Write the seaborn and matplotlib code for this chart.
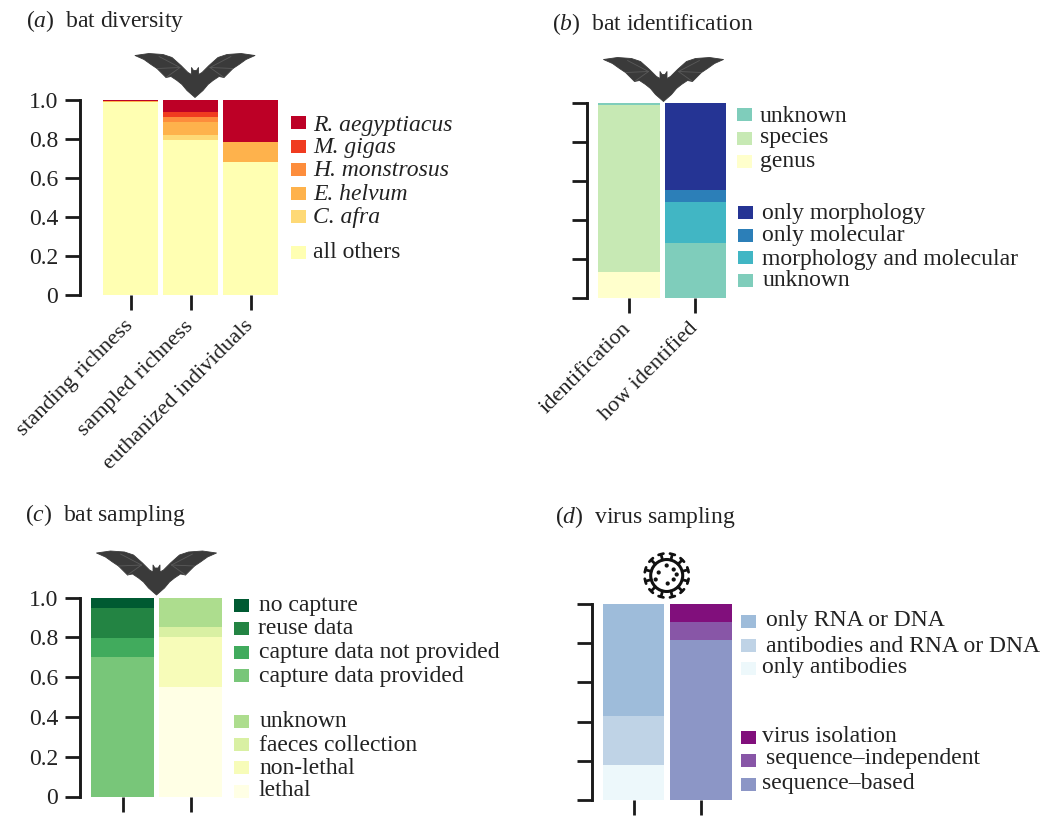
"""
Four stacked proportion panels: bat diversity, identification, sampling, virus sampling.
Output: out.png
"""

import numpy as np
import matplotlib
matplotlib.use("Agg")
import matplotlib.pyplot as plt
from matplotlib.patches import Polygon, Circle, Rectangle
from matplotlib.lines import Line2D
from matplotlib.transforms import Affine2D, ScaledTranslation
import seaborn as sns

# ==========================================
# 1. DATA (segments listed bottom to top)
# ==========================================
A_CATS = ["standing richness", "sampled richness", "euthanized individuals"]
A_OTHERS = [0.985, 0.792, 0.681]
A_AFRA = [0.0, 0.024, 0.0]
A_HELVUM = [0.005, 0.070, 0.103]
A_MONSTROSUS = [0.0, 0.025, 0.0]
A_GIGAS = [0.0, 0.023, 0.0]
A_AEGYPTIACUS = [0.010, 0.066, 0.216]

B_CATS = ["identification", "how identified"]
B_GENUS = [0.132, 0.0]
B_SPECIES = [0.853, 0.0]
B_ID_UNKNOWN = [0.015, 0.0]
B_HOW_UNKNOWN = [0.0, 0.281]
B_BOTH = [0.0, 0.209]
B_MOLECULAR = [0.0, 0.060]
B_MORPHOLOGY = [0.0, 0.450]

C_CATS = ["capture", "method"]
C_PROVIDED = [0.702, 0.0]
C_NOT_PROVIDED = [0.092, 0.0]
C_REUSE = [0.151, 0.0]
C_NO_CAPTURE = [0.055, 0.0]
C_LETHAL = [0.0, 0.548]
C_NON_LETHAL = [0.0, 0.252]
C_FAECES = [0.0, 0.051]
C_UNKNOWN = [0.0, 0.149]

D_CATS = ["target", "assay"]
D_ANTIBODIES = [0.179, 0.0]
D_AB_RNA = [0.250, 0.0]
D_RNA = [0.571, 0.0]
D_SEQ_BASED = [0.0, 0.816]
D_SEQ_INDEP = [0.0, 0.090]
D_ISOLATION = [0.0, 0.094]

Y_TICKS = [0, 0.2, 0.4, 0.6, 0.8, 1.0]
Y_LABELS = ["0", "0.2", "0.4", "0.6", "0.8", "1.0"]

W, H = 1043, 818
FS = 17
TEXT = "#222222"

sns.set_theme(style="ticks")
plt.rcParams["font.family"] = ["Liberation Serif"]
plt.rcParams["mathtext.fontset"] = "custom"
plt.rcParams["mathtext.it"] = "Liberation Serif:italic"
plt.rcParams["mathtext.rm"] = "Liberation Serif"

fig = plt.figure(figsize=(W / 100, H / 100), dpi=100)
# pixel space, y down, for annotations that are not data
PX = Affine2D().scale(1 / W, -1 / H).translate(0, 1) + fig.transFigure


def draw_panel(box, first_c, pitch, width, cats, segments, colors, ylabels, xlabels):
    left, top, right, bottom = box
    ax = fig.add_axes([left / W, 1 - bottom / H, (right - left) / W, (bottom - top) / H])
    ax.patch.set_alpha(0)
    base = np.zeros(len(cats))
    for vals, col in zip(segments, colors):
        sns.barplot(x=cats, y=vals, bottom=base, color=col, saturation=1,
                    width=width / pitch, errorbar=None, linewidth=0, ax=ax)
        base = base + np.array(vals)
    ax.set_xlim((left - first_c) / pitch, (right - first_c) / pitch)
    ax.set_ylim(0, 1)
    ax.set_ylabel("")
    ax.set_yticks(Y_TICKS)
    ax.set_yticklabels(Y_LABELS if ylabels else [""] * len(Y_TICKS))
    ax.set_xticks(range(len(cats)))
    if xlabels:
        ax.set_xticklabels(cats, rotation=45, ha="right", rotation_mode="anchor")
    else:
        ax.set_xticklabels([""] * len(cats))
    ax.tick_params(axis="both", length=10.8, width=2.0, color="#1a1a1a",
                   labelsize=FS, labelcolor=TEXT, pad=5)
    ax.tick_params(axis="x", pad=7, labelsize=16.2)
    # nudge the rotated labels so their ends sit under the ticks
    shift = ScaledTranslation(-7 / 100, 3 / 100, fig.dpi_scale_trans)
    for lab in ax.get_xticklabels():
        lab.set_transform(lab.get_transform() + shift)
    sns.despine(ax=ax, top=True, right=True, bottom=True)
    ax.spines["left"].set_linewidth(2.1)
    ax.spines["left"].set_color("#1a1a1a")
    return ax


def add_legend(sw_x, rows, italic=False):
    # rows: (swatch centre y, text x, text y, label, colour)
    for sy, tx, ty, label, col in rows:
        fig.add_artist(Rectangle((sw_x, sy - 6.5), 15, 13, transform=PX, facecolor=col, edgecolor="none"))
        fig.text(tx, ty + 6.5, label, transform=PX, fontsize=FS, color=TEXT,
                 style="italic" if italic and label != "all others" else "normal",
                 va="baseline", ha="left")


def add_title(x, y, letter, label):
    fig.text(x, y, rf"($\mathit{{{letter}}}$)  {label}", transform=PX, fontsize=FS, color=TEXT, va="baseline")


def add_bat(cx, top):
    wing = [(-60, 2), (-46, 0), (-32, 1), (-23, 4), (-14, 12), (-7, 19), (-3.5, 21), (-3.5, 14),
            (-1.5, 17), (0, 17)]
    under = [(0, 44), (-8, 37), (-13, 31), (-18, 27), (-24, 23), (-29, 24), (-33, 20), (-38, 15),
             (-44, 11), (-51, 6)]
    outline = wing + [(-dx, dy) for dx, dy in wing[::-1][1:]] + [(-dx, dy) for dx, dy in under[::-1][:-1]] + under
    pts = [(cx + dx, top + dy) for dx, dy in outline]
    fig.add_artist(Polygon(pts, closed=True, transform=PX, facecolor="#3a3a3a", edgecolor="#3a3a3a",
                           linewidth=0.6, joinstyle="round"))
    for sign in (-1, 1):
        for ex, ey in [(38, 15), (29, 24), (36, 3)]:
            fig.add_artist(Line2D([cx + sign * 15, cx + sign * ex], [top + 14, top + ey],
                                  transform=PX, color="#5a5a5a", linewidth=0.6))


def add_virus(cx, cy):
    fig.add_artist(Circle((cx, cy), 16, transform=PX, facecolor="white", edgecolor="#111111", linewidth=2.2))
    for ang in np.arange(0, 360, 30) + 15:
        c, s = np.cos(np.radians(ang)), np.sin(np.radians(ang))
        fig.add_artist(Line2D([cx + 16 * c, cx + 22 * c], [cy + 16 * s, cy + 22 * s],
                              transform=PX, color="#111111", linewidth=2.0))
        fig.add_artist(Line2D([cx + 22 * c - 2.5 * s, cx + 22 * c + 2.5 * s],
                              [cy + 22 * s + 2.5 * c, cy + 22 * s - 2.5 * c],
                              transform=PX, color="#111111", linewidth=2.0))
    for dx, dy in [(0, -10), (7, -6), (-8, -3), (10, -1), (-11, 4), (1, 8), (7, 4)]:
        fig.add_artist(Circle((cx + dx, cy + dy), 2.1, transform=PX, facecolor="#111111", edgecolor="none"))


# ==========================================
# 2. PANELS
# ==========================================
A_COLORS = ["#ffffb2", "#fed976", "#feb24c", "#fd8d3c", "#f03b20", "#bd0026"]
draw_panel((80, 99.5, 280, 295), 130.5, 60, 54.5, A_CATS,
           [A_OTHERS, A_AFRA, A_HELVUM, A_MONSTROSUS, A_GIGAS, A_AEGYPTIACUS], A_COLORS, True, True)

B_COLORS = ["#ffffcc", "#c7e9b4", "#7fcdbb", "#7fcdbb", "#41b6c4", "#2c7fb8", "#253494"]
draw_panel((587, 102.5, 730, 297.5), 628.8, 66.5, 61.5, B_CATS,
           [B_GENUS, B_SPECIES, B_ID_UNKNOWN, B_HOW_UNKNOWN, B_BOTH, B_MOLECULAR, B_MORPHOLOGY],
           B_COLORS, False, True)

C_COLORS = ["#78c679", "#41ab5d", "#238443", "#005a32", "#ffffe5", "#f7fcb9", "#d9f0a3", "#addd8e"]
draw_panel((80, 597.5, 228, 796.5), 122.5, 68.3, 63, C_CATS,
           [C_PROVIDED, C_NOT_PROVIDED, C_REUSE, C_NO_CAPTURE, C_LETHAL, C_NON_LETHAL, C_FAECES, C_UNKNOWN],
           C_COLORS, True, False)

D_COLORS = ["#edf8fb", "#bfd3e6", "#9ebcda", "#8c96c6", "#8856a7", "#810f7c"]
draw_panel((592, 604, 736, 800), 633.5, 67.7, 61.7, D_CATS,
           [D_ANTIBODIES, D_AB_RNA, D_RNA, D_SEQ_BASED, D_SEQ_INDEP, D_ISOLATION],
           D_COLORS, False, False)

# ==========================================
# 3. TITLES, LEGENDS, ICONS
# ==========================================
add_title(25.5, 27, "a", "bat diversity")
add_title(552, 30, "b", "bat identification")
add_title(25, 521.5, "c", "bat sampling")
add_title(555, 522.5, "d", "virus sampling")

add_legend(290.7, [
    (122.7, 313, 124, "R. aegyptiacus", "#bd0026"),
    (146, 313, 147, "M. gigas", "#f03b20"),
    (169.3, 313, 169, "H. monstrosus", "#fd8d3c"),
    (193, 313, 193, "E. helvum", "#feb24c"),
    (216, 313, 216, "C. afra", "#fed976"),
    (252, 313, 251.5, "all others", "#ffffb2"),
], italic=True)

add_legend(736.7, [
    (114.3, 760, 115, "unknown", "#7fcdbb"),
    (138, 760, 136.7, "species", "#c7e9b4"),
    (161, 760, 160, "genus", "#ffffcc"),
])
add_legend(737.7, [
    (212, 762.3, 212.7, "only morphology", "#253494"),
    (235, 762.3, 234, "only molecular", "#2c7fb8"),
    (257.7, 762.3, 258, "morphology and molecular", "#41b6c4"),
    (280.7, 762.3, 279, "unknown", "#7fcdbb"),
])
add_legend(234.3, [
    (605.3, 259.3, 605, "no capture", "#005a32"),
    (628.3, 257.7, 627.7, "reuse data", "#238443"),
    (652, 259.3, 651.7, "capture data not provided", "#41ab5d"),
    (675.7, 259.3, 675.7, "capture data provided", "#78c679"),
    (721, 259.3, 720.7, "unknown", "#addd8e"),
    (744.3, 259.3, 744.3, "faeces collection", "#d9f0a3"),
    (767.7, 259.3, 767.3, "non-lethal", "#f7fcb9"),
    (791.3, 258.3, 789.3, "lethal", "#ffffe5"),
])
add_legend(741, [
    (621.7, 766, 619.3, "only RNA or DNA", "#9ebcda"),
    (645.3, 766, 645, "antibodies and RNA or DNA", "#bfd3e6"),
    (668, 762.3, 666, "only antibodies", "#edf8fb"),
    (737, 762.3, 736, "virus isolation", "#810f7c"),
    (760.3, 766, 757.7, "sequence\u2013independent", "#8856a7"),
    (784, 762.3, 783, "sequence\u2013based", "#8c96c6"),
])

add_bat(195, 53.5)
add_bat(663.5, 57.5)
add_bat(156.5, 551)
add_virus(666.7, 575.5)

fig.savefig("out.png", dpi=100)
plt.close(fig)
